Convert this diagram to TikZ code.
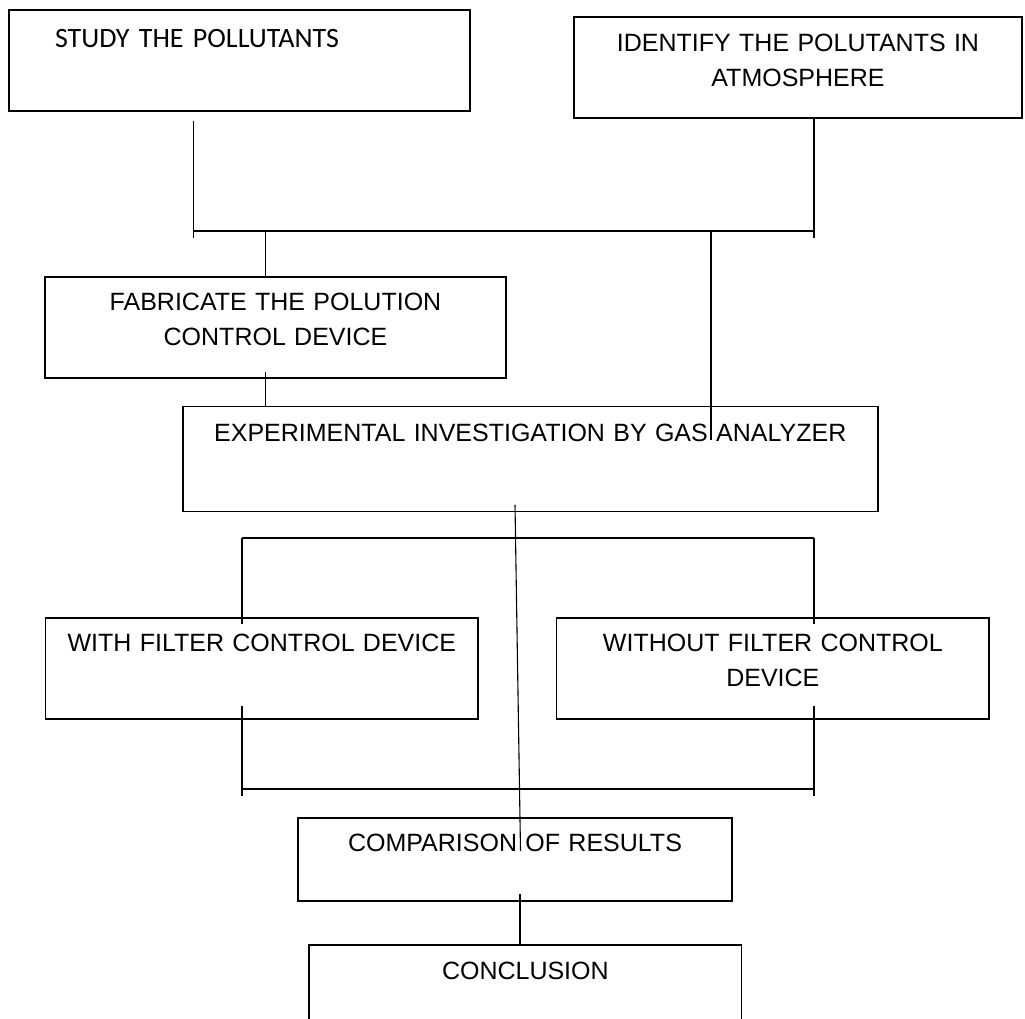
\documentclass[tikz,border=0pt]{standalone}
\usepackage{fontspec}
\setmainfont{Liberation Sans}
\newfontfamily\studyfont{Carlito}
\usepackage{tikz}
\usetikzlibrary{positioning, calc}
\tikzstyle{stage} = [rectangle, draw, line width=1.5pt, inner sep=0pt,
    text centered]
\tikzstyle{link} = [draw, line width=1.1pt]

\begin{document}
\begin{tikzpicture}[x=1pt, y=1pt, auto,
    font=\fontsize{25}{35}\selectfont,
    wideBox/.style={text width=461pt},
    halfBox/.style={text width=432.3pt}
    ]
    \useasboundingbox (0,0) rectangle (1025,-1019);
    % Nodes
    \node [stage, wideBox, align=left, inner xsep=46pt, text width=369pt,
           text height=38pt, text depth=63pt,
           font=\studyfont\fontsize{28}{35}\selectfont] (study) at (239.5,-60.5)
          {STUDY THE POLLUTANTS};
    \node [stage, text width=448pt, text height=34.7pt, text depth=66.3pt,
           right of=study, node distance=558.5pt, yshift=-7pt] (identify)
          {IDENTIFY THE POLUTANTS IN\\ATMOSPHERE};
    \node [stage, wideBox, text height=33pt, text depth=68pt,
           below of=study, node distance=267pt, xshift=36pt] (fabricate)
          {FABRICATE THE POLUTION\\CONTROL DEVICE};
    \node [stage, text width=695pt, text height=34.5pt, text depth=70.5pt,
           below of=fabricate, node distance=131.5pt, xshift=254.75pt] (experiment)
          {EXPERIMENTAL INVESTIGATION BY GAS ANALYZER};
    \node [stage, halfBox, text height=33.7pt, text depth=67.3pt,
           below of=experiment, node distance=209.5pt, xshift=-268.4pt] (withfilter)
          {WITH FILTER CONTROL DEVICE};
    \node [stage, halfBox, text height=33.7pt, text depth=67.3pt,
           right of=withfilter, node distance=511pt] (withoutfilter)
          {WITHOUT FILTER CONTROL\\DEVICE};
    \node [stage, text width=434pt, text height=33.7pt, text depth=49.3pt,
           below of=experiment, node distance=400.5pt, xshift=-15.25pt] (compare)
          {COMPARISON OF RESULTS};
    \node [stage, text width=432.7pt, text height=34pt, text depth=66pt,
           below of=compare, node distance=135.5pt, xshift=10.35pt] (conclusion)
          {CONCLUSION};

    % Bars
    \coordinate (barTL) at (193.7,-231);
    \coordinate (barTR) at (814,-231);
    \coordinate (barML) at (242,-538);
    \coordinate (barMR) at (814,-538);
    \coordinate (barBL) at (242,-789);
    \coordinate (barBR) at (814,-789);
    \coordinate (fabIn) at ($(fabricate.north)+(-10,0)$);
    \coordinate (fabOut) at ($(fabricate.south)+(-10,7)$);
    \coordinate (expIn) at ($(experiment.north)+(180.75,-34.5)$);

    % Edges
    \path [link] ($(study.south -| barTL)+(0,-9)$) -- ($(barTL)+(0,-7)$);
    \path [link] (identify.south -| barTR) -- ($(barTR)+(0,-7)$);
    \path [link] (barTL) -- (barTR);
    \path [link] (fabIn) -- (fabIn |- barTL);
    \path [link] (expIn) -- (expIn |- barTR);
    \path [link] (fabOut) -- (fabOut |- experiment.north);
    \path [link] ($(experiment.south)+(-15.25,7.5)$) -- ($(compare.north)+(5.5,-33.7)$);

    \path [link] (barML) -- (barMR);
    \path [link] ($(withfilter.north -| barML)+(0,-7)$) -- (barML);
    \path [link] ($(withoutfilter.north -| barMR)+(0,-7)$) -- (barMR);
    \path [link] ($(withfilter.south -| barBL)+(0,14)$) -- ($(barBL)+(0,-7)$);
    \path [link] ($(withoutfilter.south -| barBR)+(0,14)$) -- ($(barBR)+(0,-7)$);
    \path [link] (barBL) -- (barBR);
    \path [link] ($(compare.south)+(5,8)$) -- ($(conclusion.north)+(-5.35,0)$);
\end{tikzpicture}
\end{document}
